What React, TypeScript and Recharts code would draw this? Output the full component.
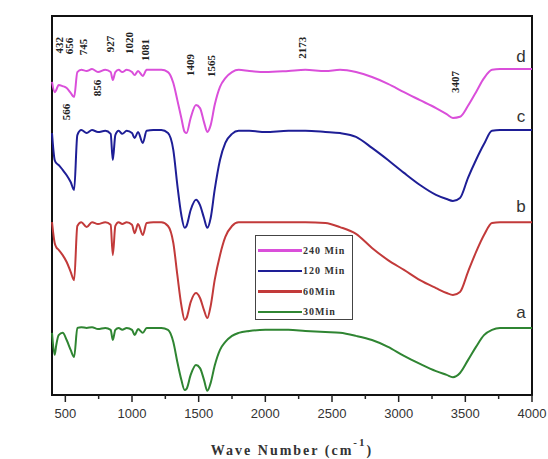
import React from "react";
import {
  LineChart,
  Line,
  XAxis,
  YAxis,
  Legend,
  ReferenceArea,
  ReferenceDot,
} from "recharts";

// wavenumber grid (cm-1) shared by the four spectra
const waveNumbers = [
  400, 420, 432, 450, 480, 510, 540, 566, 590, 620, 660, 700, 745, 800, 840,
  856, 875, 900, 927, 960, 1000, 1020, 1045, 1081, 1110, 1160, 1220, 1270,
  1310, 1340, 1370, 1395, 1409, 1440, 1480, 1510, 1540, 1565, 1590, 1620,
  1660, 1700, 1750, 1800, 1880, 2000, 2173, 2300, 2450, 2560, 2680, 2800,
  2920, 3040, 3160, 3280, 3360, 3407, 3460, 3520, 3580, 3640, 3700, 3760,
  3850, 4000,
];

// %T, offset stacked (d on top, a at the bottom)
const t240 = [
  82.6, 79.9, 80.5, 81.8, 81.5, 81.0, 79.7, 78.6, 85.2, 85.8, 85.5, 86.0,
  85.2, 85.8, 85.2, 83.1, 85.2, 85.8, 85.2, 85.8, 85.2, 84.4, 85.5, 84.2,
  85.8, 85.8, 85.8, 85.2, 82.3, 77.8, 73.1, 69.4, 69.1, 73.1, 76.5, 75.7,
  72.0, 69.4, 71.2, 76.5, 81.3, 83.6, 85.2, 85.8, 85.5, 85.2, 85.5, 85.8,
  85.5, 85.8, 85.2, 83.9, 82.1, 79.9, 77.8, 75.7, 74.1, 73.1, 73.4, 76.3,
  79.9, 83.6, 85.8, 86.0, 86.0, 86.0,
];
const t120 = [
  69.1, 62.0, 61.2, 60.7, 59.4, 58.0, 56.2, 54.1, 68.6, 69.9, 69.1, 69.9,
  69.4, 69.7, 68.9, 62.0, 68.6, 69.7, 68.9, 69.7, 69.1, 67.8, 69.4, 66.5,
  69.7, 69.9, 69.9, 69.1, 64.6, 55.4, 47.5, 44.1, 44.6, 48.8, 51.5, 50.1,
  46.7, 44.1, 46.7, 54.1, 62.0, 66.5, 68.9, 69.7, 69.7, 69.4, 69.7, 69.7,
  69.4, 69.1, 68.1, 65.2, 62.0, 58.6, 55.4, 52.8, 51.7, 51.2, 52.0, 57.3,
  62.0, 66.2, 69.7, 69.9, 69.9, 69.9,
];
const t60 = [
  45.6, 40.1, 39.0, 38.3, 36.9, 35.1, 32.5, 30.3, 44.6, 45.6, 44.3, 45.6,
  45.1, 45.6, 44.9, 36.9, 44.6, 45.6, 45.1, 45.6, 44.9, 42.7, 45.1, 42.2,
  45.4, 45.6, 45.6, 44.6, 40.1, 31.7, 23.7, 19.8, 20.3, 24.5, 26.9, 25.6,
  22.4, 20.3, 23.5, 30.3, 36.9, 41.7, 44.6, 45.6, 45.6, 45.6, 45.6, 45.6,
  45.4, 44.3, 42.5, 38.8, 35.6, 33.0, 30.3, 28.2, 26.9, 26.4, 27.2, 32.5,
  37.7, 42.2, 45.4, 45.6, 45.6, 45.6,
];
const t30 = [
  16.4, 10.6, 13.2, 15.8, 16.4, 14.5, 11.9, 10.0, 17.7, 17.9, 17.7, 17.9,
  17.4, 17.7, 17.2, 14.5, 17.2, 17.7, 17.2, 17.7, 17.2, 15.8, 17.4, 16.4,
  17.7, 17.7, 17.7, 17.2, 14.0, 8.7, 4.0, 1.3, 1.6, 5.3, 7.9, 7.1, 4.0, 1.1,
  3.2, 7.7, 11.9, 14.0, 15.6, 16.4, 16.9, 17.2, 17.2, 16.9, 16.6, 16.4,
  15.6, 14.5, 12.7, 10.3, 8.2, 6.3, 5.3, 4.7, 5.8, 9.2, 12.7, 15.8, 17.2,
  17.7, 17.7, 17.7,
];

const xTicks = [
  500, 750, 1000, 1250, 1500, 1750, 2000, 2250, 2500, 2750, 3000, 3250, 3500,
  3750, 4000,
];

const series = [
  { key: "d", name: "240 Min", color: "#DA4FDA" },
  { key: "c", name: "120 Min", color: "#1E1E96" },
  { key: "b", name: "60Min", color: "#C23A3A" },
  { key: "a", name: "30Min", color: "#2F8532" },
];

// peak annotations: text, wavenumber, %T where the label sits
const peakText = ["432", "656", "745", "927", "1020", "1081", "1409", "1565", "566", "856", "2173", "3407"];
const peakX = [452, 527, 632, 835, 977, 1097, 1435, 1592, 505, 737, 2275, 3422];
const peakY = [92.3, 92.1, 91.8, 92.6, 92.9, 91.0, 87.1, 86.8, 74.7, 81.0, 91.6, 82.6];

const curveTags = ["d", "c", "b", "a"];
const curveTagY = [89.4, 73.6, 49.9, 21.9];

const data = waveNumbers.map((wn, i) => ({
  wn,
  d: t240[i],
  c: t120[i],
  b: t60[i],
  a: t30[i],
}));

const serif = "'Liberation Serif', 'Times New Roman', serif";
const sans = "'Liberation Sans', Arial, sans-serif";

function AxisTick(props: any) {
  const { x, y, payload } = props;
  const major = payload.value % 500 === 0;
  return (
    <g>
      <line x1={x} x2={x} y1={y} y2={y + (major ? 7 : 4)} stroke="#222" strokeWidth={1.5} />
      {major && (
        <text x={x} y={y + 23} textAnchor="middle" fontSize={13} fill="#333" fontFamily={sans}>
          {payload.value}
        </text>
      )}
    </g>
  );
}

function XTitle(props: any) {
  const vb = props.viewBox;
  return (
    <text
      x={vb.x + vb.width / 2}
      y={vb.y + 60}
      textAnchor="middle"
      fontSize={14}
      fontWeight="bold"
      letterSpacing={2}
      fill="#333"
      fontFamily={serif}
    >
      <tspan>Wave Number (cm</tspan>
      <tspan dy={-9} fontSize={11}>-1</tspan>
      <tspan dy={9}>)</tspan>
    </text>
  );
}

function YTitle(props: any) {
  const vb = props.viewBox;
  const x = vb.x - 36;
  const y = vb.y + vb.height / 2 + 7;
  return (
    <text
      x={x}
      y={y}
      transform={`rotate(-90 ${x} ${y})`}
      textAnchor="middle"
      dominantBaseline="central"
      fontSize={14}
      fontWeight="bold"
      fill="#333"
      fontFamily={serif}
    >
      %T
    </text>
  );
}

function LegendBox() {
  return (
    <div
      style={{
        border: "1.5px solid #444",
        background: "#fff",
        width: 98,
        height: 85,
        boxSizing: "border-box",
        paddingTop: 4,
      }}
    >
      {series.map((s) => (
        <div key={s.key} style={{ display: "flex", alignItems: "center", height: 20.5 }}>
          <div style={{ width: 44, height: 2.5, background: s.color, marginLeft: 2 }} />
          <span
            style={{
              fontFamily: serif,
              fontWeight: "bold",
              fontSize: 10,
              letterSpacing: 1,
              color: "#333",
              marginLeft: 1,
              whiteSpace: "nowrap",
            }}
          >
            {s.name}
          </span>
        </div>
      ))}
    </div>
  );
}

export default function App() {
  return (
    <div style={{ position: "absolute", left: 0, top: 0, background: "#fff" }}>
      <LineChart
        width={548}
        height={459}
        data={data}
        margin={{ top: 16, right: 16, left: 52, bottom: 34 }}
      >
        <XAxis
          dataKey="wn"
          type="number"
          domain={[400, 4000]}
          ticks={xTicks}
          interval={0}
          height={30}
          tickSize={0}
          tickMargin={0}
          tickLine={false}
          axisLine={{ stroke: "#111", strokeWidth: 2 }}
          tick={<AxisTick />}
          label={<XTitle />}
        />
        <YAxis
          type="number"
          domain={[0, 100]}
          allowDataOverflow
          width={0}
          tick={false}
          tickLine={false}
          axisLine={false}
          label={<YTitle />}
        />
        <Legend
          layout="vertical"
          align="center"
          verticalAlign="middle"
          content={<LegendBox />}
          wrapperStyle={{ left: 255, top: 235, width: 98, height: 85 }}
        />
        {series.map((s) => (
          <Line
            key={s.key}
            dataKey={s.key}
            name={s.name}
            type="monotone"
            stroke={s.color}
            strokeWidth={2}
            dot={false}
            isAnimationActive={false}
          />
        ))}
        {peakText.map((t, i) => (
          <ReferenceDot
            key={t}
            x={peakX[i]}
            y={peakY[i]}
            r={0}
            stroke="none"
            label={{
              value: t,
              position: "center",
              angle: -90,
              fontSize: 11,
              fontWeight: "bold",
              fontFamily: serif,
              fill: "#222",
            }}
          />
        ))}
        {curveTags.map((t, i) => (
          <ReferenceDot
            key={t}
            x={3917}
            y={curveTagY[i]}
            r={0}
            stroke="none"
            label={{ value: t, position: "center", fontSize: 17, fontFamily: sans, fill: "#333" }}
          />
        ))}
        <ReferenceArea
          x1={400}
          x2={4000}
          y1={0}
          y2={100}
          fill="none"
          stroke="#111"
          strokeWidth={2}
        />
      </LineChart>
    </div>
  );
}
